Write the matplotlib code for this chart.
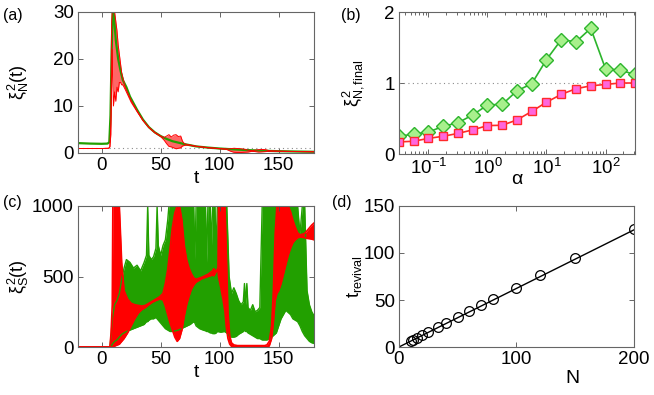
import matplotlib
matplotlib.use('Agg')
import matplotlib.pyplot as plt

plt.rcParams['font.family'] = ['Liberation Sans', 'DejaVu Sans']
plt.rcParams['mathtext.fontset'] = 'custom'
plt.rcParams['mathtext.rm'] = 'Liberation Sans'
plt.rcParams['mathtext.it'] = 'Liberation Sans'
plt.rcParams['mathtext.bf'] = 'Liberation Sans:bold'
plt.rcParams['mathtext.sf'] = 'Liberation Sans'

GREEN = '#22a000'
RED = '#ff0000'

# ---------------- panel (a) data ----------------
t_a_green = [-20, -10, 0, 5, 6.5, 7.5, 8.5, 9.5, 10.5, 12,
             14, 16, 18, 21, 24, 27, 30, 35, 40, 45,
             50, 55, 60, 65, 70, 80, 90, 100, 110, 120,
             130, 140, 150, 160, 170, 180]
y_a_green = [2.1, 2.0, 1.95, 2.0, 2.3, 8, 22, 31, 29, 24,
             20, 17.5, 15.5, 14, 12, 10.6, 9.2, 7.1, 5.5, 4.4,
             3.6, 3.0, 2.5, 2.2, 1.9, 1.4, 1.15, 0.95, 0.8, 0.65,
             0.55, 0.45, 0.38, 0.33, 0.29, 0.25]

t_a_red = [-20, 0, 6, 7, 7.8, 8.5, 9, 10, 11, 12,
           13, 14, 15, 16, 17, 18, 20, 25, 30, 35,
           40, 45, 50, 53, 55, 57, 59, 61, 63, 65,
           67, 68.5, 70, 72, 75, 80, 90, 100, 106, 109,
           112, 115, 118, 121, 124, 127, 130, 133, 136, 139,
           142, 150, 160, 170, 180]
lo_a_red = [0.95, 0.95, 1.0, 1.3, 4, 15, 22, 10, 13, 11,
            14, 13, 15, 15, 14.5, 14.5, 13.5, 10.8, 8.8, 6.9,
            5.4, 4.3, 3.5, 2.7, 2.0, 1.4, 1.3, 1.1, 0.9, 1.0,
            1.1, 1.5, 1.6, 1.7, 1.6, 1.4, 1.1, 0.9, 0.75, 0.4,
            0.15, 0.1, 0.1, 0.15, 0.2, 0.35, 0.3, 0.2, 0.25, 0.3,
            0.35, 0.35, 0.32, 0.28, 0.25]
hi_a_red = [0.95, 0.95, 1.0, 1.3, 6, 28, 30, 30, 30, 28,
            26, 23, 21, 19, 17, 16, 14, 11.2, 9.0, 7.0,
            5.5, 4.4, 3.6, 3.3, 3.6, 3.9, 3.4, 3.8, 3.9, 3.5,
            3.6, 2.5, 2.0, 1.8, 1.7, 1.45, 1.15, 0.95, 0.85, 0.9,
            1.0, 0.95, 0.9, 0.8, 0.6, 0.5, 0.6, 0.7, 0.75, 0.7,
            0.5, 0.4, 0.34, 0.3, 0.27]

# ---------------- panel (b) data ----------------
alpha_vals = [0.0316, 0.0562, 0.1, 0.178, 0.316, 0.562, 1.0, 1.78, 3.16,
              5.62, 10.0, 17.8, 31.6, 56.2, 100.0, 178.0, 316.0]
xi_final_green = [0.25, 0.28, 0.31, 0.39, 0.44, 0.55, 0.69, 0.70, 0.89,
                  0.99, 1.33, 1.61, 1.58, 1.77, 1.20, 1.18, 1.12]
xi_final_red = [0.17, 0.18, 0.22, 0.25, 0.29, 0.34, 0.40, 0.405, 0.48,
                0.60, 0.73, 0.84, 0.92, 0.96, 0.98, 1.0, 1.0]

# ---------------- panel (c) data ----------------
t_c_green = [-20, 7, 8, 9, 11, 13, 15, 17, 19, 21,
             24, 27, 30, 33, 36, 38, 39, 40, 42, 44,
             46, 47, 48, 50, 52, 54, 56, 57, 58, 60,
             65, 70, 75, 78, 79, 80, 83, 86, 88, 89,
             90, 92, 93, 94, 96, 97, 98, 101, 104, 106,
             108, 110, 112, 114, 116, 118, 120, 121, 122, 123,
             124, 126, 128, 130, 132, 134, 136, 140, 144, 148,
             152, 156, 160, 162, 164, 166, 168, 170, 172, 174,
             176, 178, 180]
hi_c_green = [0, 0, 80, 200, 300, 330, 380, 480, 560, 620,
              600, 560, 580, 540, 600, 650, 1000, 650, 620, 640,
              700, 1000, 720, 650, 720, 760, 900, 1000, 1000, 1000,
              1000, 1000, 1000, 1000, 620, 1000, 1000, 1000, 1000, 600,
              1000, 1000, 700, 1000, 1000, 650, 1000, 1000, 1000, 1000,
              500, 380, 420, 380, 330, 300, 320, 450, 300, 450,
              280, 260, 300, 250, 260, 280, 1000, 1000, 1000, 1000,
              1000, 1000, 1000, 1000, 1000, 1000, 800, 1000, 1000, 400,
              300, 250, 220]
lo_c_green = [0, 0, 0, 20, 40, 50, 70, 90, 100, 110,
              120, 130, 140, 150, 160, 180, 180, 190, 200, 200,
              210, 200, 190, 170, 150, 130, 120, 115, 110, 110,
              120, 140, 160, 180, 170, 150, 130, 120, 115, 110,
              110, 100, 100, 95, 95, 100, 110, 105, 110, 100,
              80, 70, 70, 75, 90, 100, 110, 120, 110, 110,
              100, 90, 80, 70, 60, 60, 50, 50, 70, 100,
              200, 260, 230, 200, 190, 180, 150, 110, 80, 60,
              40, 30, 25]

t_c_red = [-20, 7, 8, 9, 9.5, 12, 15, 16, 17, 19,
           22, 25, 28, 31, 34, 37, 40, 43, 46, 49,
           52, 54, 56, 58, 60, 62, 64, 66, 68, 70,
           72, 74, 76, 78, 80, 85, 90, 94, 95, 96,
           97.5, 98.6, 99, 101, 103, 104.5, 105.5, 107, 108.5, 110,
           112, 115, 120, 130, 138, 140, 142, 144, 145.5, 147,
           148.5, 150, 152, 155, 158, 160, 162, 164, 166, 168,
           170, 172, 174, 176, 178, 180]
lo_c_red = [0, 0, 0, 0, 0, 10, 20, 30, 40, 60,
            100, 150, 200, 240, 265, 280, 300, 318, 330, 340,
            335, 290, 230, 170, 120, 70, 40, 60, 120, 220,
            300, 360, 410, 440, 460, 485, 500, 510, 505, 520,
            540, 540, 500, 420, 330, 250, 150, 60, 20, 5,
            0, 0, 0, 0, 0, 0, 8, 60, 180, 330,
            380, 400, 450, 550, 650, 700, 740, 760, 775, 780,
            778, 775, 770, 768, 765, 760]
hi_c_red = [0, 0, 100, 300, 1000, 1000, 1000, 800, 600, 400,
            340, 310, 300, 295, 290, 295, 310, 325, 340, 355,
            380, 450, 550, 700, 850, 950, 1000, 1000, 900, 720,
            620, 560, 520, 490, 480, 495, 515, 540, 555, 540,
            545, 560, 1000, 1000, 1000, 1000, 700, 250, 80, 30,
            15, 10, 10, 10, 10, 15, 40, 150, 400, 800,
            1000, 1000, 1000, 1000, 1000, 960, 900, 850, 810, 795,
            800, 805, 825, 845, 865, 880]

# ---------------- panel (d) data ----------------
N_vals = [10, 12, 15, 20, 25, 33, 40, 50, 60, 70, 80, 100, 120, 150, 200]
t_revival = [6, 7, 9.5, 13, 16, 21, 25.5, 32, 38, 45, 51, 63, 77, 95, 125]
fit_N = [0, 200]
fit_t = [0, 124.5]

TICK_FS = 13.5
LABEL_FS = 14


def style(ax):
    ax.tick_params(which='both', direction='in', top=True, right=True,
                   labelsize=TICK_FS, color='0.3', width=0.6)
    ax.tick_params(which='major', length=3.5, pad=3)
    ax.tick_params(which='minor', length=2)
    for s in ax.spines.values():
        s.set_linewidth(0.8)
        s.set_color('0.4')


fig = plt.figure(figsize=(6.54, 3.95), dpi=100)

# ---- (a)
axa = fig.add_axes([0.1193, 0.6127, 0.361, 0.357])
axa.axhline(1, color='0.55', ls=(0, (1, 3)), lw=0.8)
axa.plot(t_a_green, y_a_green, color=GREEN, lw=1.6)
axa.fill_between(t_a_red, lo_a_red, hi_a_red, color=RED, alpha=0.6, lw=0)
axa.plot(t_a_red, lo_a_red, color=RED, lw=0.7)
axa.plot(t_a_red, hi_a_red, color=RED, lw=0.7)
axa.set_xlim(-20, 180)
axa.set_ylim(0, 30)
axa.set_xticks([0, 50, 100, 150])
axa.set_yticks([0, 10, 20, 30])
style(axa)
axa.set_xlabel('t', fontsize=LABEL_FS)
axa.xaxis.set_label_coords(0.5, -0.12)
axa.set_ylabel(r'$\xi^2_N(t)$', fontsize=13)
axa.yaxis.set_label_coords(-0.2, 0.5)

# ---- (b)
axb = fig.add_axes([0.610, 0.6101, 0.361, 0.3595])
axb.axhline(1, color='0.55', ls=(0, (1, 3)), lw=0.8)
axb.plot(alpha_vals, xi_final_green, color='#2db52d', lw=1.2, marker='D',
         ms=7, mfc='#a8f08c', mec='#2db52d', mew=1.0)
axb.plot(alpha_vals, xi_final_red, color='#ff2a2a', lw=1.2, marker='s',
         ms=5.5, mfc='#ff66dd', mec='#ff2a2a', mew=1.0)
axb.set_xscale('log')
axb.set_xlim(10 ** -1.5, 10 ** 2.5)
axb.set_ylim(0, 2)
axb.set_xticks([0.1, 1, 10, 100])
axb.set_yticks([0, 1, 2])
style(axb)
axb.set_xlabel(r'$\alpha$', fontsize=LABEL_FS)
axb.xaxis.set_label_coords(0.5, -0.12)
axb.set_ylabel(r'$\xi^2_{\rm N,final}$', fontsize=13)
axb.yaxis.set_label_coords(-0.14, 0.5)

# ---- (c)
axc = fig.add_axes([0.1193, 0.1215, 0.361, 0.357])
axc.fill_between(t_c_green, lo_c_green, hi_c_green, color=GREEN, lw=0)
axc.plot(t_c_green, lo_c_green, color=GREEN, lw=1.0)
axc.plot(t_c_green, hi_c_green, color=GREEN, lw=1.0)
axc.fill_between(t_c_red, lo_c_red, hi_c_red, color=RED, lw=0)
axc.plot(t_c_red, lo_c_red, color=RED, lw=1.2)
axc.plot(t_c_red, hi_c_red, color=RED, lw=1.2)
axc.set_xlim(-20, 180)
axc.set_ylim(0, 1000)
axc.set_xticks([0, 50, 100, 150])
axc.set_yticks([0, 500, 1000])
style(axc)
axc.set_xlabel('t', fontsize=LABEL_FS)
axc.xaxis.set_label_coords(0.5, -0.12)
axc.set_ylabel(r'$\xi^2_S(t)$', fontsize=13)
axc.yaxis.set_label_coords(-0.2, 0.5)

# ---- (d)
axd = fig.add_axes([0.610, 0.1215, 0.359, 0.357])
axd.plot(fit_N, fit_t, color='k', lw=1.0)
axd.plot(N_vals, t_revival, ls='none', marker='o', ms=7, mfc='none',
         mec='k', mew=0.9)
axd.set_xlim(0, 200)
axd.set_ylim(0, 150)
axd.set_xticks([0, 100, 200])
axd.set_yticks([0, 50, 100, 150])
style(axd)
axd.set_xlabel('N', fontsize=LABEL_FS)
axd.xaxis.set_label_coords(0.74, -0.16)
axd.set_ylabel(r'$\rm t_{revival}$', fontsize=13)
axd.yaxis.set_label_coords(-0.15, 0.5)

# panel letters
fig.text(0.004, 0.962, '(a)', fontsize=11.5, va='center', ha='left')
fig.text(0.522, 0.962, '(b)', fontsize=11.5, va='center', ha='left')
fig.text(0.004, 0.488, '(c)', fontsize=11.5, va='center', ha='left')
fig.text(0.507, 0.488, '(d)', fontsize=11.5, va='center', ha='left')

fig.savefig('out.png', dpi=100)
